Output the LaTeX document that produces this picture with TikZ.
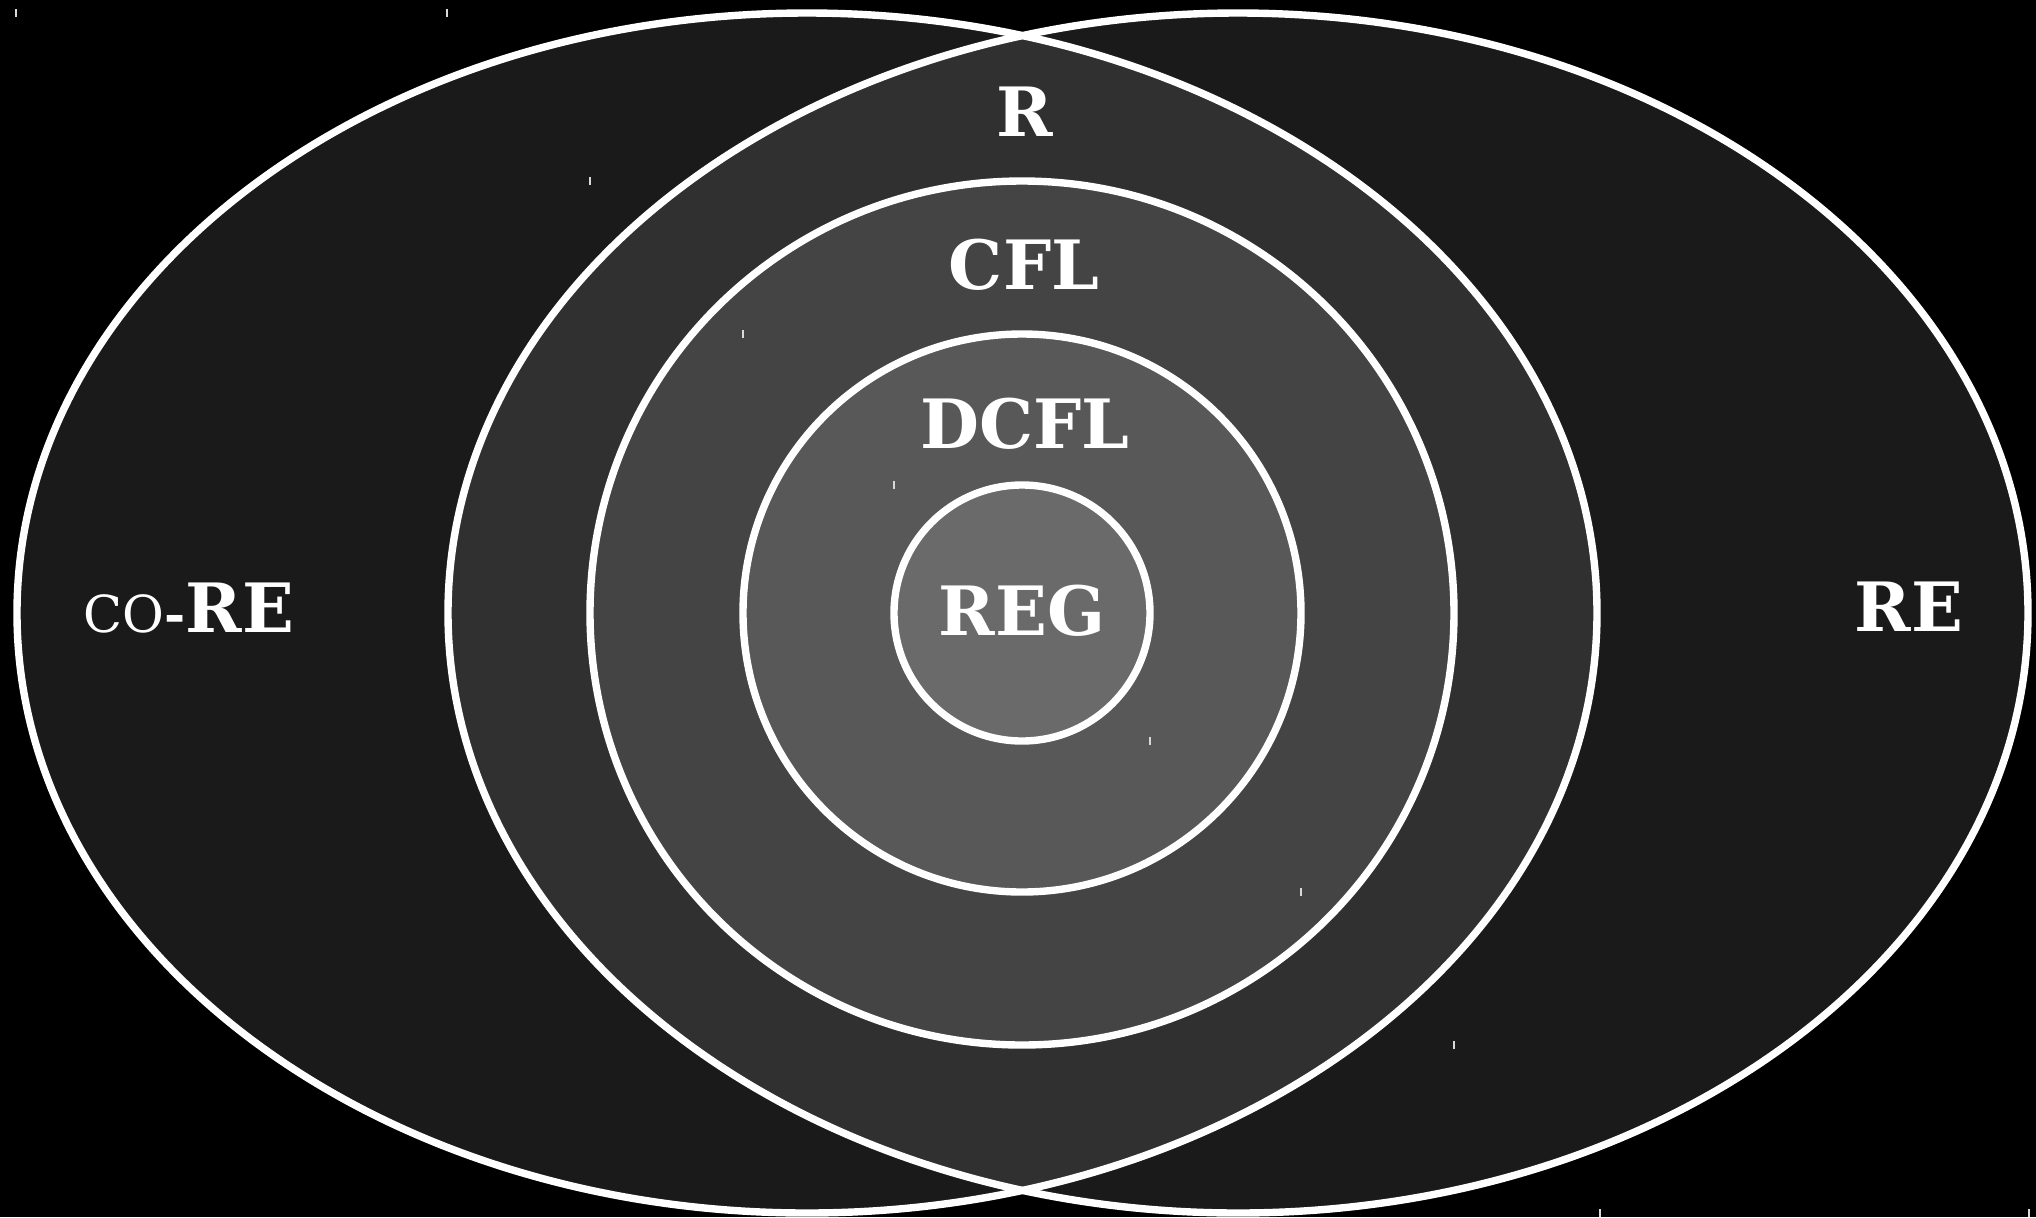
\documentclass[tikz,border=0pt]{standalone}
\usepackage{fontspec}
\setmainfont{DejaVu Serif}
\definecolor{reFill}  {HTML}{1A1A1A}
\definecolor{recFill} {HTML}{303030}
\definecolor{cflFill} {HTML}{444444}
\definecolor{dcflFill}{HTML}{585858}
\definecolor{regFill} {HTML}{6A6A6A}
\tikzset{
  setLine/.style={draw=white,line width=3.7pt},
  classLabel/.style={text=white,font=\fontsize{34}{40}\selectfont\bfseries,
                     anchor=base,inner sep=0pt},
  bbTick/.style={white!85!black,line width=0.6pt},
}

\begin{document}
\begin{tikzpicture}[x=0.5pt,y=-0.5pt]
\fill[black] (0,0) rectangle (2036,1217);
\useasboundingbox (0,0) rectangle (2036,1217);

\coordinate (coreC) at (807,613);
\coordinate (reC)   at (1238,613);
\coordinate (mid)   at (1022,613);

% the two recursively enumerable sets, R is where they overlap
\fill[reFill] (coreC) ellipse [x radius=790,y radius=600];
\fill[reFill] (reC)   ellipse [x radius=790,y radius=600];
\begin{scope}
  \clip (coreC) ellipse [x radius=790,y radius=600];
  \fill[recFill] (reC) ellipse [x radius=790,y radius=600];
\end{scope}
\draw[setLine] (coreC) ellipse [x radius=790,y radius=600];
\draw[setLine] (reC)   ellipse [x radius=790,y radius=600];

\draw[setLine,fill=cflFill]  (mid) circle [radius=432];
\draw[setLine,fill=dcflFill] (mid) circle [radius=279];
\draw[setLine,fill=regFill]  (mid) circle [radius=128];

\node[classLabel] (rLabel)    at (1025,136) {R};
\node[classLabel] (cflLabel)  at (1024,289) {CFL};
\node[classLabel] (dcflLabel) at (1025,448) {DCFL};
\node[classLabel] (regLabel)  at (1022,635) {REG};
\node[classLabel] (reLabel)   at (1909,631) {RE};
\node[classLabel] (coreLabel) at (189,632)
  {{\fontsize{25.5}{30}\selectfont{\mdseries CO}-}RE};

% stray marks at the corners of the shapes
\foreach \tx/\ty in {16/13,447/13,590/181,743/334,894/485,
                     1150/741,1301/892,1454/1045,1600/1213,2029/1213}
  \draw[bbTick] (\tx,\ty-4) -- (\tx,\ty+4);

\end{tikzpicture}
\end{document}
